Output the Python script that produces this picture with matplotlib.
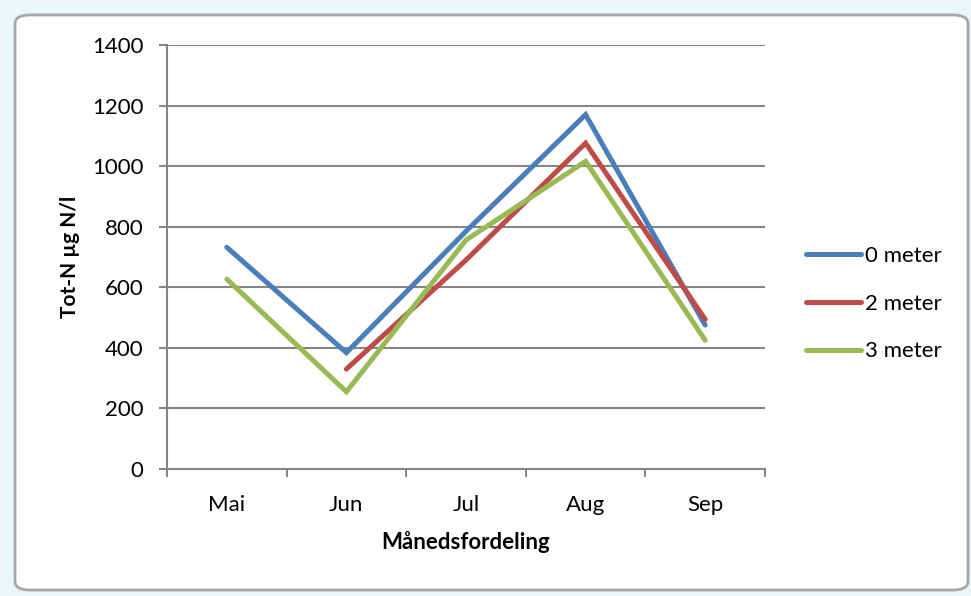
import matplotlib.pyplot as plt
from matplotlib.patches import FancyBboxPatch
import numpy as np

# Tot-N per month at three depths
months = ['Mai', 'Jun', 'Jul', 'Aug', 'Sep']
depth_0m = [732, 384, 785, 1170, 475]
depth_2m = [np.nan, 330, 690, 1076, 494]
depth_3m = [627, 255, 756, 1016, 425]
series_labels = ['0 meter', '2 meter', '3 meter']
yticks = [0, 200, 400, 600, 800, 1000, 1200, 1400]

plt.rcParams['font.family'] = ['Lato', 'DejaVu Sans']

fig = plt.figure(figsize=(9.71, 5.96), dpi=100)
fig.patch.set_facecolor('#eaf5f7')

# rounded chart frame
frame = FancyBboxPatch((15 / 971, 6 / 596), 953 / 971, 575 / 596,
                       boxstyle='round,pad=0,rounding_size=0.015',
                       transform=fig.transFigure, facecolor='white',
                       edgecolor='#a6a6a6', linewidth=2, zorder=-1)
fig.patches.append(frame)

ax = fig.add_axes([167 / 971, 127 / 596, 598 / 971, 424 / 596])
ax.set_zorder(2)
ax.set_facecolor('none')

x = np.arange(len(months))
colors = ['#4a7ebb', '#be4b48', '#98b954']
for vals, lab, col in zip([depth_0m, depth_2m, depth_3m], series_labels, colors):
    ax.plot(x, vals, color=col, linewidth=3.6, label=lab, solid_capstyle='round',
            solid_joinstyle='miter', zorder=3)

ax.set_xlim(-0.5, len(months) - 0.5)
ax.set_ylim(0, 1400)
ax.set_yticks(yticks)
ax.set_xticks(x)
ax.set_xticklabels(months)
ax.set_xticks(np.arange(-0.5, len(months)), minor=True)
ax.tick_params(axis='x', which='major', length=0, pad=19, labelsize=16, colors='black')
ax.tick_params(axis='x', which='minor', length=5.8, width=1.5, color='#868686', direction='out')
ax.tick_params(axis='y', length=5.8, width=1.5, color='#868686', direction='out',
               labelsize=16, pad=11)
ax.yaxis.grid(True, color='#868686', linewidth=1.5)
ax.set_axisbelow(True)
for side in ['top', 'right']:
    ax.spines[side].set_visible(False)
for side in ['left', 'bottom']:
    ax.spines[side].set_color('#868686')
    ax.spines[side].set_linewidth(1.5)

ax.set_ylabel('Tot-N µg N/l', fontsize=15, fontweight='bold', labelpad=9)
ax.set_xlabel('Månedsfordeling', fontsize=16, fontweight='bold', labelpad=11)

ax.legend(loc='center left', bbox_to_anchor=(1.035, 0.39), frameon=False,
          fontsize=16, handlelength=2.5, handletextpad=0.15, labelspacing=1.25)

fig.savefig('out.png', dpi=100, facecolor=fig.get_facecolor())
